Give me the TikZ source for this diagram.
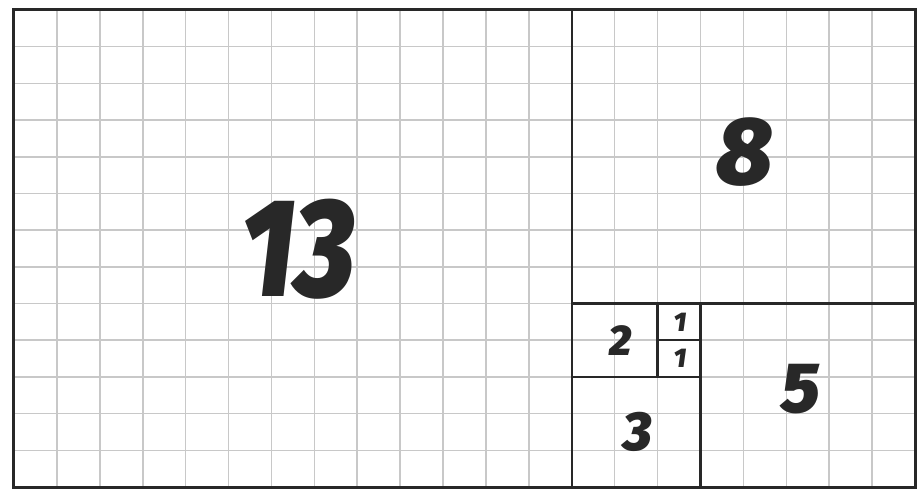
\documentclass[tikz,border=0pt]{standalone}
\usepackage{fontspec}
\setmainfont{Fira Sans}[BoldItalicFont={Fira Sans Black Italic}, Numbers=Proportional]
\usepackage{tikz}
\usetikzlibrary{positioning}
\definecolor{inkgray}{RGB}{40,40,40}
\definecolor{gridgray}{RGB}{200,200,200}

\begin{document}
\begin{tikzpicture}[
  x=42.9pt, y=36.69pt,
  gridline/.style={gridgray, line width=1.6pt},
  square/.style={inkgray, line width=2.4pt},
  frame/.style={inkgray, line width=3pt},
  num/.style={inkgray, inner sep=0pt, font=\fontsize{#1}{#1}\bfseries\itshape}
]
  \useasboundingbox (-0.326,-0.082) rectangle (21.163,13.2725);
  \fill[white] (-0.326,-0.082) rectangle (21.163,13.2725);
  % grid
  \draw[gridline, step=1] (0,0) grid (21,13);
  % squares
  \draw[square] (13,0) -- (13,13);
  \draw[square] (13,5) -- (21,5);
  \draw[square] (16,0) -- (16,5);
  \draw[square] (13,3) -- (16,3);
  \draw[square] (15,3) -- (15,5);
  \draw[square] (15,4) -- (16,4);
  \draw[frame] (0,0) rectangle (21,13);
  % labels
  \node[num=140] (thirteen) at (6.62,6.49) {\scalebox{0.82}[1]{13}};
  \node[num=96] (eight) at (17.04,9.13) {8};
  \node[num=71] (five) at (18.35,2.67) {5};
  \node[num=55] (three) at (14.55,1.5) {3};
  \node[num=43] (two) at (14.13,3.99) {2};
  \node[num=27] (oneA) at (15.52,4.5) {1};
  \node[num=27] (oneB) at (15.52,3.52) {1};
\end{tikzpicture}
\end{document}
